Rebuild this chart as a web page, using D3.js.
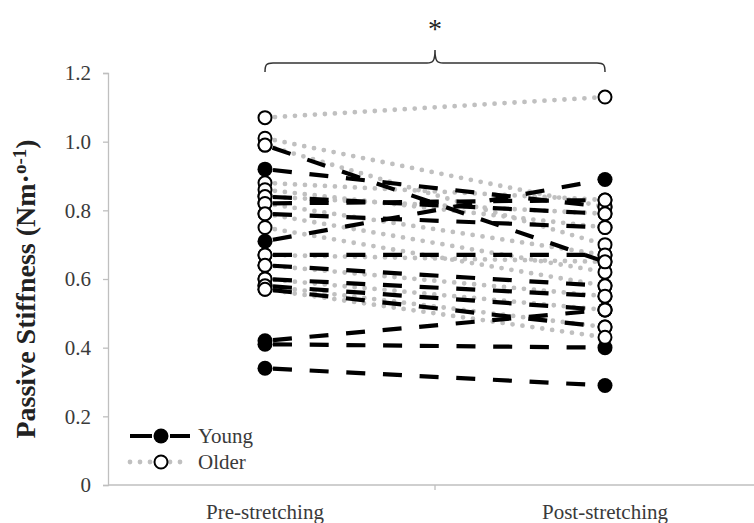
<!DOCTYPE html>
<html>
<head>
<meta charset="utf-8">
<script src="https://cdn.jsdelivr.net/npm/d3@7"></script>
<style>
  html, body { margin: 0; padding: 0; background: #fff; }
  svg text { font-family: "Liberation Serif", "Times New Roman", serif; }
</style>
</head>
<body>
<div id="chart"></div>
<script>
// categories on the x axis
const categories = ["Pre-stretching", "Post-stretching"];

// young subjects (black dashed, filled markers)
const youngPre  = [0.99, 0.92, 0.71, 0.84, 0.82, 0.79, 0.67, 0.64, 0.60, 0.58, 0.57, 0.42, 0.41, 0.34];
const youngPost = [0.65, 0.81, 0.89, 0.79, 0.83, 0.75, 0.67, 0.58, 0.55, 0.51, 0.46, 0.51, 0.40, 0.29];

// older subjects (grey dotted, open markers)
const olderPre  = [1.07, 1.01, 0.99, 0.88, 0.86, 0.84, 0.82, 0.79, 0.75, 0.67, 0.64, 0.60, 0.58, 0.57];
const olderPost = [1.13, 0.81, 0.70, 0.83, 0.75, 0.79, 0.67, 0.62, 0.58, 0.65, 0.55, 0.51, 0.46, 0.43];

const yTicks = [0, 0.2, 0.4, 0.6, 0.8, 1.0, 1.2];
const legendLabels = ["Young", "Older"];

const w = 754, h = 523;
const svg = d3.select("#chart").append("svg")
  .attr("width", w)
  .attr("height", h);

const x = d3.scalePoint().domain(categories).range([95, 775]).padding(0.5);
const y = d3.scaleLinear().domain([0, 1.2]).range([485, 73]);

const axisColor = "#bfbfbf";
const textColor = "#3a3a3a";
const fontSize = "21px";

// y axis
const yAxis = svg.append("g")
  .attr("transform", "translate(108,0)")
  .call(d3.axisLeft(y).tickValues(yTicks).tickSize(5).tickPadding(12)
    .tickFormat(d => d === 0 ? "0" : d3.format(".1f")(d)));
yAxis.select(".domain").attr("stroke", axisColor).attr("stroke-width", 1.3);
yAxis.selectAll(".tick line").attr("stroke", axisColor).attr("stroke-width", 1.3);
yAxis.selectAll(".tick text")
  .attr("fill", textColor)
  .style("font-size", fontSize)
  .style("font-family", "'Liberation Serif', serif");

// x axis: line across, one tick between the two categories
svg.append("line")
  .attr("x1", 108).attr("x2", w)
  .attr("y1", y(0)).attr("y2", y(0))
  .attr("stroke", axisColor).attr("stroke-width", 1.3);
const midX = (x(categories[0]) + x(categories[1])) / 2;
svg.append("line")
  .attr("x1", midX).attr("x2", midX)
  .attr("y1", y(0)).attr("y2", y(0) + 5)
  .attr("stroke", axisColor).attr("stroke-width", 1.3);
svg.append("g").selectAll("text")
  .data(categories)
  .enter().append("text")
  .attr("x", d => x(d))
  .attr("y", 523 - 4)
  .attr("text-anchor", "middle")
  .attr("fill", textColor)
  .style("font-size", fontSize)
  .text(d => d);

// y axis title
const title = svg.append("text")
  .attr("transform", "translate(35,289) rotate(-90)")
  .attr("text-anchor", "middle")
  .attr("fill", "#222")
  .style("font-size", "28px")
  .style("font-weight", "bold");
title.append("tspan").text("Passive Stiffness (Nm\u00b7");
title.append("tspan").attr("dy", -9).style("font-size", "19px").text("o-1");
title.append("tspan").attr("dy", 9).text(")");

const pairs = (pre, post) => pre.map((v, i) => [v, post[i]]);
const lineGen = d3.line().x((d, i) => x(categories[i])).y(d => y(d));

// older lines (grey round dots)
svg.append("g").selectAll("path")
  .data(pairs(olderPre, olderPost))
  .enter().append("path")
  .attr("d", lineGen)
  .attr("fill", "none")
  .attr("stroke", "#c0c0c0")
  .attr("stroke-width", 4.8)
  .attr("stroke-linecap", "round")
  .attr("stroke-dasharray", "0,10");

// young lines (black long dash)
svg.append("g").selectAll("path")
  .data(pairs(youngPre, youngPost))
  .enter().append("path")
  .attr("d", lineGen)
  .attr("fill", "none")
  .attr("stroke", "#000")
  .attr("stroke-width", 4.2)
  .attr("stroke-dasharray", "19,17.7")
  .attr("stroke-dashoffset", 28.7);

// young markers (drawn first, open circles sit on top)
const youngPts = [];
youngPre.forEach(v => youngPts.push([categories[0], v]));
youngPost.forEach(v => youngPts.push([categories[1], v]));
svg.append("g").selectAll("circle")
  .data(youngPts)
  .enter().append("circle")
  .attr("cx", d => x(d[0]))
  .attr("cy", d => y(d[1]))
  .attr("r", 7.5)
  .attr("fill", "#000");

// older markers
const olderPts = [];
olderPre.forEach(v => olderPts.push([categories[0], v]));
olderPost.forEach(v => olderPts.push([categories[1], v]));
svg.append("g").selectAll("circle")
  .data(olderPts)
  .enter().append("circle")
  .attr("cx", d => x(d[0]))
  .attr("cy", d => y(d[1]))
  .attr("r", 6.5)
  .attr("fill", "#fff")
  .attr("stroke", "#000")
  .attr("stroke-width", 2);

// significance bracket
const bx1 = x(categories[0]), bx2 = x(categories[1]);
const by = y(1.2) - 10;
svg.append("path")
  .attr("d", `M${bx1},${by + 9} C${bx1},${by + 2} ${bx1 + 1},${by} ${bx1 + 8},${by}`
    + ` L${midX - 8},${by} C${midX - 2},${by} ${midX},${by - 2} ${midX},${by - 13}`
    + ` C${midX},${by - 2} ${midX + 2},${by} ${midX + 8},${by}`
    + ` L${bx2 - 8},${by} C${bx2 - 1},${by} ${bx2},${by + 2} ${bx2},${by + 9}`)
  .attr("fill", "none")
  .attr("stroke", "#333")
  .attr("stroke-width", 1.5);
svg.append("text")
  .attr("x", midX)
  .attr("y", 38)
  .attr("text-anchor", "middle")
  .attr("fill", "#222")
  .style("font-size", "28px")
  .text("*");

// legend
const legend = svg.append("g").selectAll("g")
  .data(legendLabels)
  .enter().append("g")
  .attr("transform", (d, i) => `translate(130,${436 + i * 26})`);
legend.append("line")
  .attr("x1", 0).attr("x2", 60)
  .attr("stroke", (d, i) => i === 0 ? "#000" : "#c0c0c0")
  .attr("stroke-width", (d, i) => i === 0 ? 4.2 : 4.8)
  .attr("stroke-linecap", (d, i) => i === 0 ? "butt" : "round")
  .attr("stroke-dasharray", (d, i) => i === 0 ? "22,18,20" : "0,10");
legend.append("circle")
  .attr("cx", 31)
  .attr("r", (d, i) => i === 0 ? 7.5 : 6.5)
  .attr("fill", (d, i) => i === 0 ? "#000" : "#fff")
  .attr("stroke", "#000")
  .attr("stroke-width", (d, i) => i === 0 ? 0 : 2);
legend.append("text")
  .attr("x", 68)
  .attr("y", 7)
  .attr("fill", textColor)
  .style("font-size", fontSize)
  .text(d => d);
</script>
</body>
</html>
